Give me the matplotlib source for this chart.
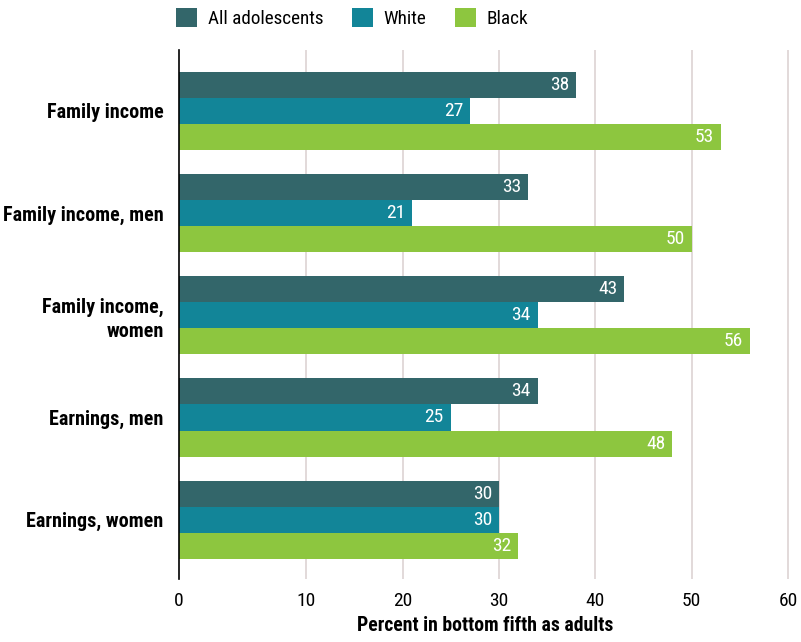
import matplotlib
matplotlib.use("Agg")
import matplotlib.pyplot as plt
from matplotlib.patches import Patch
import numpy as np

plt.rcParams['font.family'] = ['Roboto Condensed', 'DejaVu Sans']
plt.rcParams['font.stretch'] = 'condensed'

categories = ["Family income", "Family income, men", "Family income,\nwomen",
              "Earnings, men", "Earnings, women"]
series_names = ["All adolescents", "White", "Black"]
all_adolescents = [38, 33, 43, 34, 30]
white = [27, 21, 34, 25, 30]
black = [53, 50, 56, 48, 32]
tick_values = [0, 10, 20, 30, 40, 50, 60]

colors = ["#33666a", "#128598", "#8dc63f"]
x0 = -3.2  # axis starts a little left of zero

fig = plt.figure(figsize=(8.01, 6.42), dpi=100)
ax = fig.add_axes([0.2235, 0.0981, 0.764, 0.824])

y = np.arange(len(categories))
h = 0.255
for i, (vals, col) in enumerate(zip([all_adolescents, white, black], colors)):
    pos = y + (i - 1) * h
    widths = [v - x0 for v in vals]
    ax.barh(pos, widths, left=x0, height=h, color=col, zorder=3)
    for p, v in zip(pos, vals):
        ax.annotate(str(v), (v, p), xytext=(-5, 0), textcoords="offset points",
                    ha="right", va="center", color="white", fontsize=14, zorder=4)

ax.set_xlim(x0, 60.3)
ax.set_ylim(4.58, -0.594)
ax.set_yticks(y)
ax.set_yticklabels(categories, fontsize=14.5, fontweight="bold", ha="right",
                   multialignment="right", linespacing=1.3)
ax.tick_params(axis="y", length=0, pad=11)
ax.set_xticks([x0] + tick_values[1:])
ax.set_xticklabels([str(t) for t in tick_values], fontsize=14)
ax.tick_params(axis="x", length=0, pad=9)
ax.set_xlabel("Percent in bottom fifth as adults", fontsize=14.2, fontweight="bold",
              labelpad=5)

for t in tick_values[1:]:
    ax.axvline(t, color="#ddd3d3", linewidth=1.2, zorder=1)

for s in ["top", "right", "bottom"]:
    ax.spines[s].set_visible(False)
ax.spines["left"].set_color("black")
ax.spines["left"].set_linewidth(1.2)
ax.spines["left"].set_zorder(5)

handles = [Patch(facecolor=c, label=n) for c, n in zip(colors, series_names)]
fig.legend(handles=handles, loc="center", bbox_to_anchor=(0.44, 0.972), ncol=3,
           frameon=False, fontsize=13.8, handlelength=1.1, handleheight=1.1,
           columnspacing=1.5, handletextpad=0.55)

fig.savefig("out.png", dpi=100)
